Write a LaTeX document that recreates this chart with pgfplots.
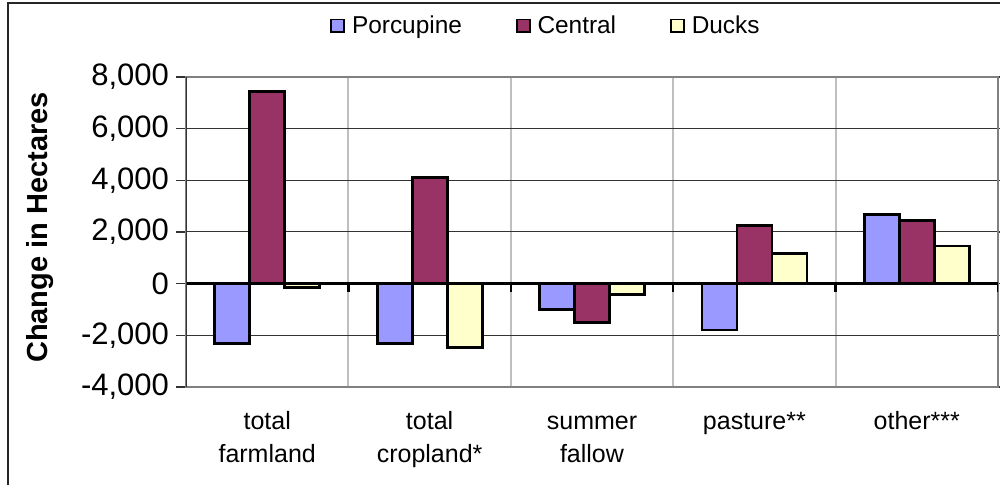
\documentclass[border=0pt]{standalone}
\usepackage{fontspec}
\setmainfont{Liberation Sans}
\usepackage{pgfplots}
\pgfplotsset{compat=1.18}
\definecolor{porc}{HTML}{9999FF}
\definecolor{cent}{HTML}{993366}
\definecolor{duck}{HTML}{FFFFCC}
\begin{document}
\begin{tikzpicture}
\path[use as bounding box] (0,0) rectangle (500pt,242.5pt);
\draw[line width=0.8pt, black!85] (4pt,0) -- (4pt,241pt) -- (500pt,241pt);
\begin{axis}[
  at={(93pt,49pt)}, anchor=south west,
  scale only axis, width=406pt, height=155pt,
  ybar=0pt, bar width=17.5pt,
  xmin=-0.5, xmax=4.5,
  ymin=-4000, ymax=8000,
  ytick={-4000,-2000,0,2000,4000,6000,8000},
  xtick={0,1,2,3,4},
  xticklabels={{\strut total\\\strut farmland},{\strut total\\\strut cropland*},{\strut summer\\\strut fallow},{\strut pasture**},{\strut other***}},
  xticklabel style={align=center, anchor=north, font=\fontsize{12.5}{16.5}\selectfont, yshift=-1pt},
  minor xtick={0.5,1.5,2.5,3.5},
  xminorgrids, ymajorgrids,
  minor grid style={draw=black!25, line width=1pt},
  major grid style={draw=black!80, line width=0.5pt},
  x tick style={draw=none},
  minor x tick style={draw=none},
  y tick style={draw=black!80, line width=0.8pt},
  tick align=outside, major tick length=5pt,
  /pgf/number format/assume math mode=true,
  /pgf/number format/1000 sep={,},
  yticklabel style={font=\fontsize{15.5}{17}\selectfont},
  scaled y ticks=false,
  axis line style={draw=black!50, line width=1pt},
  ylabel={\bfseries Change in Hectares},
  every axis y label/.style={at={(-0.18,0.5145)}, rotate=90, anchor=center, font=\fontsize{14.5}{16}\selectfont},
  legend columns=3,
  legend style={at={(0.4446,1.165)}, anchor=center, draw=none, fill=none,
    font=\fontsize{12.2}{14}\selectfont, inner sep=0pt,
    /tikz/every odd column/.append style={column sep=1.5pt},
    /tikz/every even column/.append style={column sep=25pt}},
]
\addplot[ybar, fill=porc, draw=black, line width=1.4pt,
  legend image code/.code={\draw[fill=porc, draw=black, line width=0.8pt] (0pt,-3.2pt) rectangle (6.5pt,3.2pt);}]
  coordinates {(0,-2330) (1,-2330) (2,-1010) (3,-1790) (4,2690)};
\addlegendentry{Porcupine}
\addplot[ybar, fill=cent, draw=black, line width=1.4pt,
  legend image code/.code={\draw[fill=cent, draw=black, line width=0.8pt] (0pt,-3.2pt) rectangle (6.5pt,3.2pt);}]
  coordinates {(0,7450) (1,4100) (2,-1500) (3,2250) (4,2460)};
\addlegendentry{Central}
\addplot[ybar, fill=duck, draw=black, line width=1.4pt,
  legend image code/.code={\draw[fill=duck, draw=black, line width=0.8pt] (0pt,-3.2pt) rectangle (6.5pt,3.2pt);}]
  coordinates {(0,-160) (1,-2485) (2,-410) (3,1165) (4,1460)};
\addlegendentry{Ducks}
\draw[line width=1.2pt, black] (axis cs:-0.5,0) -- (axis cs:4.5,0);
\pgfplotsinvokeforeach{-0.5,0.5,1.5,2.5,3.5,4.5}{\draw[line width=1.2pt, black] (axis cs:#1,0) -- ([yshift=-4pt]axis cs:#1,0);}
\draw[line width=1pt, black!80] (rel axis cs:0,0) -- (rel axis cs:0,1);
\end{axis}
\end{tikzpicture}
\end{document}
